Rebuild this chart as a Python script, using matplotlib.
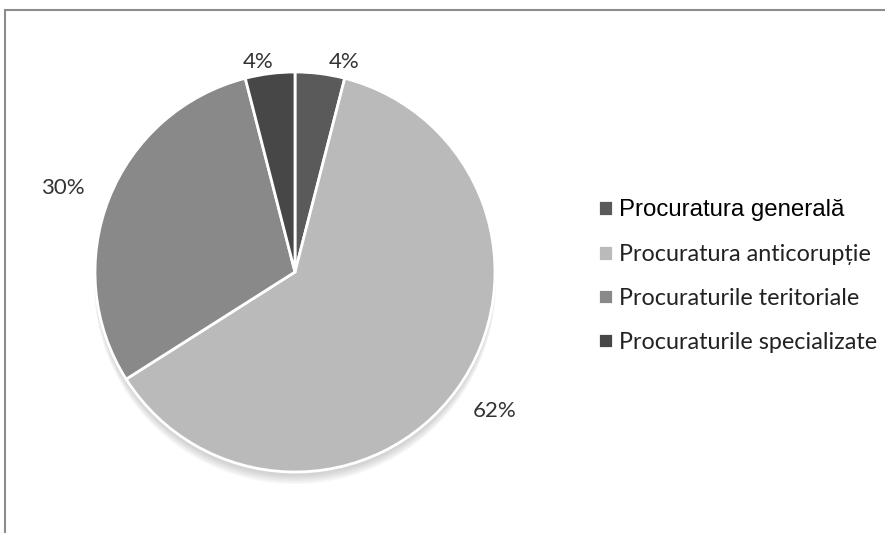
import matplotlib.pyplot as plt
from matplotlib.patches import Rectangle, Circle
import numpy as np

categories = ['Procuratura generală', 'Procuratura anticorupție',
              'Procuraturile teritoriale', 'Procuraturile specializate']
shares = [4, 62, 30, 4]
colors = ['#5a5a5a', '#bababa', '#898989', '#474747']
# label offsets (pixels) from each slice's outer edge midpoint
label_offsets = [(24, 12), (38, -21), (-46, 10), (-12, 12)]

W, H = 885, 533
fig = plt.figure(figsize=(W / 100, H / 100), dpi=100)
fig.patch.set_facecolor('white')

# pie: center (295, 272) px, radius 200 px
cx, cy, r = 295, 272, 200
ax = fig.add_axes([(cx - r) / W, (H - cy - r) / H, 2 * r / W, 2 * r / H])

# soft drop shadow under the pie
for i in range(6):
    ax.add_patch(Circle((0, -0.025 - 0.006 * i), 0.995 + 0.002 * i,
                        color='#505050', alpha=0.045, lw=0, zorder=0,
                        clip_on=False))

wedges, _ = ax.pie(shares, colors=colors, startangle=90, counterclock=False,
                   radius=1.0, wedgeprops=dict(edgecolor='white', linewidth=2))
ax.set_xlim(-1, 1)
ax.set_ylim(-1, 1)
ax.set_aspect('equal')
ax.axis('off')

# percentage labels outside each slice
for w, v, off in zip(wedges, shares, label_offsets):
    mid = np.deg2rad((w.theta1 + w.theta2) / 2)
    ax.annotate(f'{v}%', xy=(np.cos(mid), np.sin(mid)), xytext=off,
                textcoords='offset pixels', ha='center', va='center',
                fontsize=16, family='Lato', color='#333333',
                annotation_clip=False)

leg = fig.legend(wedges, categories, loc='upper left',
                 bbox_to_anchor=(577 / W, 1 - 178 / H), frameon=False,
                 handlelength=0.66, handleheight=0.66, handletextpad=0.22,
                 labelspacing=0.98, borderpad=0.4,
                 prop=dict(family='Lato', size=16.8))
texts = leg.get_texts()
texts[0].set_fontfamily('Liberation Sans')
texts[0].set_fontsize(17.3)
texts[0].set_color('black')
for t in texts[1:]:
    t.set_color('#222222')

# outer chart frame
fig.patches.append(Rectangle((5 / W, -0.1), 1.2, 1.1 - 10 / H,
                             transform=fig.transFigure, fill=False,
                             edgecolor='#8c8c8c', linewidth=1.5))

fig.savefig('out.png', dpi=100)
